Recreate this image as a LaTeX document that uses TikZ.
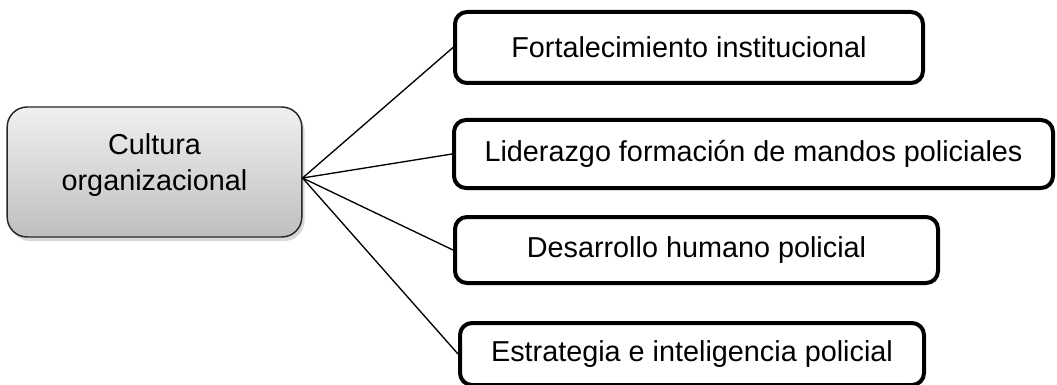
\documentclass[tikz,border=0pt]{standalone}
\usepackage{fontspec}
\setmainfont{Liberation Sans}
\usetikzlibrary{shadows}

\begin{document}
\begin{tikzpicture}[x=0.75pt,y=0.75pt]
 \useasboundingbox (0,0) rectangle (1057,-385);
 \tikzstyle{every node} = [font=\fontsize{21.6pt}{27pt}\selectfont,text=black]
 \tikzstyle{core} = [draw=black!85,line width=1.1pt,rounded corners=15pt,
   top color=gray!12,bottom color=gray!50,align=center,text depth=15pt,
   minimum width=221pt,minimum height=97.5pt,
   drop shadow={shadow xshift=2pt,shadow yshift=-3pt,opacity=0.3}]
 \tikzstyle{topic} = [draw,line width=3pt,rounded corners=9pt,fill=white,
   drop shadow={shadow xshift=1pt,shadow yshift=-1.5pt,opacity=0.25}]
 \node[core] (cult) at (154.5,-172) {Cultura\\organizacional};
 \node[topic,minimum width=351pt,minimum height=53.25pt] (fort) at (689,-47.5)
   {Fortalecimiento institucional};
 \node[topic,minimum width=449.25pt,minimum height=51pt] (lid) at (753.5,-154)
   {Liderazgo formación de mandos policiales};
 \node[topic,minimum width=362.25pt,minimum height=49.5pt] (des) at (696.5,-250)
   {Desarrollo humano policial};
 \node[topic,minimum width=348pt,minimum height=46.5pt] (estr) at (692,-354)
   {Estrategia e inteligencia policial};
 \coordinate (hub) at ([yshift=-4.5pt]cult.east);
 \draw [line width=1pt] (hub) -- (fort.west);
 \draw [line width=1pt] (hub) -- (lid.west);
 \draw [line width=1pt] (hub) -- (des.west);
 \draw [line width=1pt] (hub) -- (estr.west);
\end{tikzpicture}
\end{document}
